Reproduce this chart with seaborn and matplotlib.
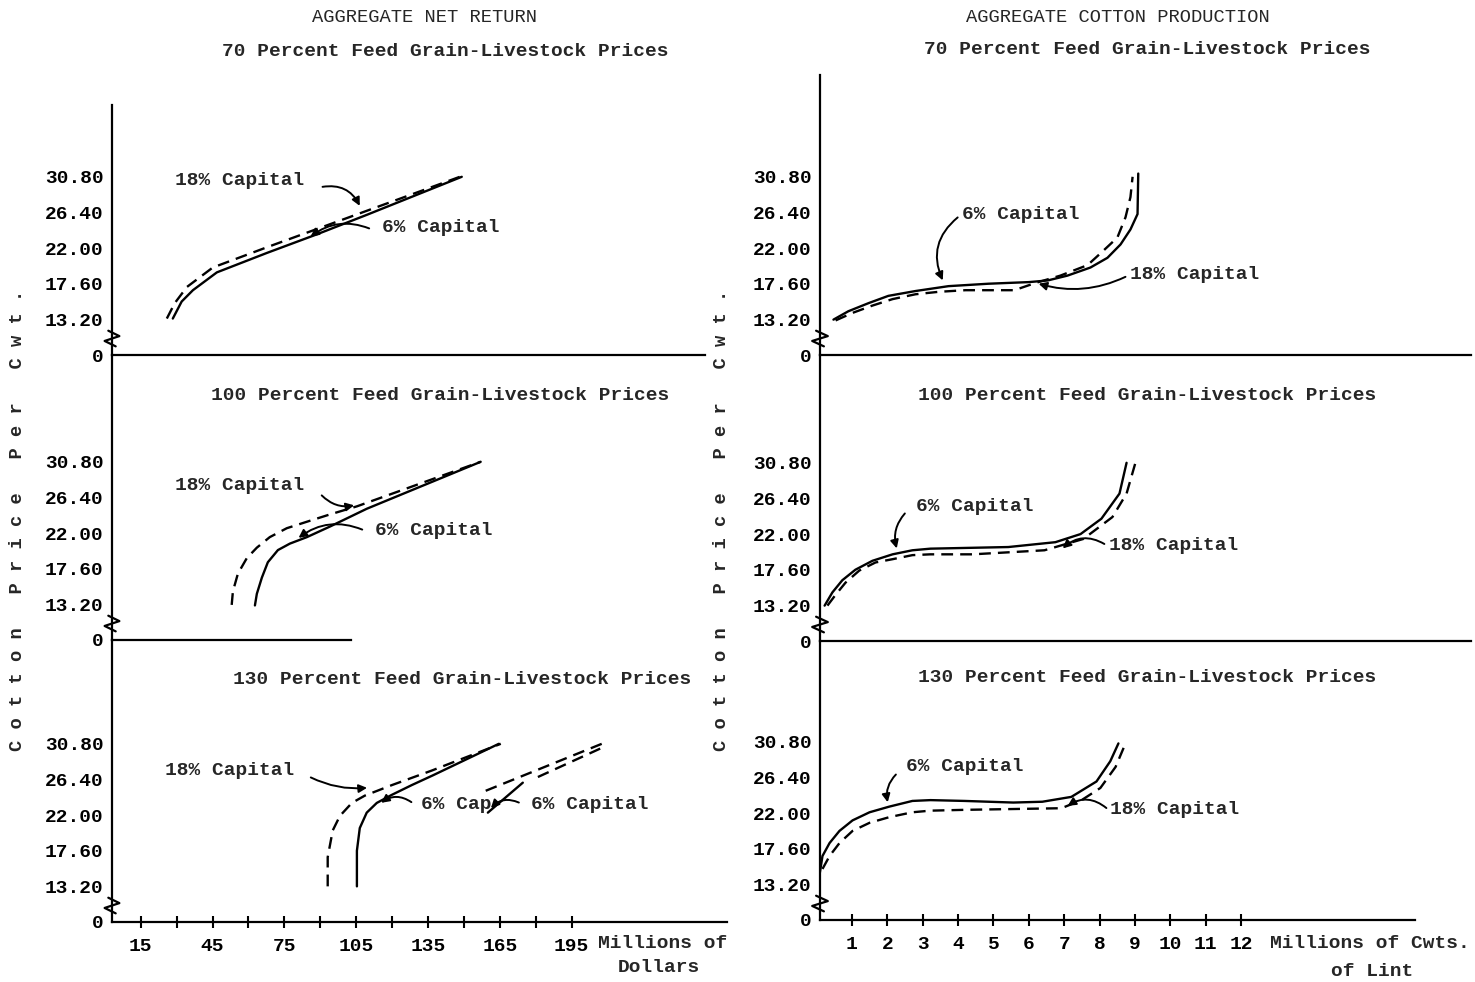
import numpy as np
import matplotlib
matplotlib.use("Agg")
import matplotlib.pyplot as plt
import seaborn as sns

sns.set_theme(style="white")
plt.rcParams['font.family'] = ['Liberation Mono', 'DejaVu Sans Mono']
plt.rcParams['font.weight'] = 'bold'
plt.rcParams['axes.edgecolor'] = 'black'
plt.rcParams['axes.linewidth'] = 1.6
plt.rcParams['xtick.color'] = 'black'
plt.rcParams['ytick.color'] = 'black'

# ---- Aggregate net return (millions of dollars) against cotton price ----
nr70_6_x = [28.4, 32.1, 36.8, 46.8, 67.7, 88.6, 109.4, 149.1]
nr70_6_y = [13.3, 15.4, 16.8, 19.0, 21.4, 23.7, 26.1, 30.8]
nr70_18_x = [25.9, 29.2, 34.3, 45.1, 67.7, 109.4, 148.3]
nr70_18_y = [13.3, 15.2, 17.2, 19.6, 22.1, 26.6, 30.8]

nr100_6_x = [62.7, 63.5, 65.6, 68.1, 72.3, 77.3, 84.4, 94.0, 109.4, 157.0]
nr100_6_y = [12.8, 14.5, 16.5, 18.4, 19.9, 20.7, 21.5, 22.8, 25.0, 30.8]
nr100_18_x = [53.0, 53.5, 55.6, 59.3, 63.5, 68.9, 76.0, 84.4, 94.0, 105.3, 157.0]
nr100_18_y = [13.0, 14.8, 17.0, 18.9, 20.2, 21.5, 22.6, 23.4, 24.3, 25.3, 30.8]

nr130_6_x = [105.3, 105.3, 106.5, 109.4, 113.6, 119.9, 128.2, 137.0, 164.6]
nr130_6_y = [13.2, 17.6, 20.4, 22.3, 23.5, 24.5, 25.7, 26.9, 30.8]
nr130_18_x = [93.1, 93.1, 95.2, 98.2, 103.2, 108.6, 119.9, 136.6, 165.4]
nr130_18_y = [13.2, 16.8, 20.1, 21.9, 23.5, 24.4, 25.7, 27.5, 30.8]
nr130b_6_x = [160.0, 174.6, 180.9, 207.6]
nr130b_6_y = [22.3, 26.0, 26.7, 30.3]
nr130b_18_x = [159.1, 207.6]
nr130b_18_y = [25.0, 30.8]

# ---- Aggregate cotton production (millions of cwts. of lint) ----
cp70_6_x = [0.48, 0.90, 1.47, 2.03, 2.80, 3.73, 4.86, 6.0, 6.53, 7.09, 7.74, 8.22,
            8.59, 8.87, 9.07, 9.09]
cp70_6_y = [13.1, 14.2, 15.2, 16.1, 16.7, 17.3, 17.6, 17.8, 18.0, 18.6, 19.6, 20.8,
            22.45, 24.3, 26.2, 31.2]
cp70_18_x = [0.54, 1.02, 1.58, 2.15, 2.80, 3.45, 4.21, 5.06, 5.59, 6.19, 6.89, 7.66,
             8.11, 8.50, 8.73, 8.87, 8.93]
cp70_18_y = [12.8, 14.0, 14.9, 15.7, 16.3, 16.6, 16.8, 16.8, 16.8, 17.7, 18.6, 19.9,
             21.7, 23.3, 25.8, 28.3, 30.8]

cp100_6_x = [0.23, 0.45, 0.73, 1.10, 1.58, 2.15, 2.71, 3.22, 5.42, 6.75, 7.46, 8.05,
             8.56, 8.76]
cp100_6_y = [13.1, 14.8, 16.3, 17.6, 18.7, 19.5, 20.0, 20.2, 20.4, 21.0, 22.0, 23.9,
             27.0, 30.8]
cp100_18_x = [0.31, 0.54, 0.82, 1.21, 1.67, 2.15, 2.71, 3.22, 4.41, 6.44, 7.54, 8.36,
              8.76, 9.01]
cp100_18_y = [13.1, 14.5, 16.0, 17.5, 18.5, 18.9, 19.4, 19.5, 19.5, 20.0, 21.4, 24.1,
              27.0, 30.8]

cp130_6_x = [0.06, 0.08, 0.17, 0.37, 0.65, 1.02, 1.50, 2.06, 2.71, 3.22, 4.18, 5.56,
             6.38, 7.2, 7.91, 8.3, 8.53]
cp130_6_y = [13.0, 14.2, 16.7, 18.3, 19.8, 21.1, 22.1, 22.8, 23.5, 23.6, 23.5, 23.3,
             23.4, 24.0, 25.9, 28.4, 30.6]
cp130_18_x = [0.17, 0.37, 0.65, 1.02, 1.50, 2.06, 2.71, 3.22, 4.18, 6.92, 7.49, 8.02,
              8.45, 8.73]
cp130_18_y = [15.1, 16.7, 18.3, 19.8, 20.8, 21.5, 22.1, 22.3, 22.4, 22.6, 23.6, 25.1,
              27.7, 30.6]

y_ticks = [0, 13.2, 17.6, 22.0, 26.4, 30.8]
y_tick_labels = ["0", "13.20", "17.60", "22.00", "26.40", "30.80"]
nr_ticks = [15, 45, 75, 105, 135, 165, 195]
nr_minor = [30, 60, 90, 120, 150, 180]
cp_ticks = list(range(1, 13))

panel_titles = ["70 Percent Feed Grain-Livestock Prices",
                "100 Percent Feed Grain-Livestock Prices",
                "130 Percent Feed Grain-Livestock Prices"]

# broken price axis: 0..13.20 squeezed into one tick step
BREAK = 13.2
def fwd(y):
    y = np.asarray(y, dtype=float)
    return np.where(y >= BREAK, y - BREAK + 4.4, y / 3.0)

def inv(t):
    t = np.asarray(t, dtype=float)
    return np.where(t >= 4.4, t - 4.4 + BREAK, t * 3.0)

W, H = 1475, 982
fig = plt.figure(figsize=(W / 100, H / 100), dpi=100)
PX = 8.1  # pixels per price unit on the transformed axis

def make_ax(left, width, top, bottom, xlim):
    ax = fig.add_axes([left / W, 1 - bottom / H, width / W, (bottom - top) / H])
    ax.set_yscale('function', functions=(fwd, inv))
    ax.set_xlim(*xlim)
    ax.set_ylim(0, float(inv((bottom - top) / PX)))
    ax.set_facecolor('none')
    for s in ['top', 'right']:
        ax.spines[s].set_visible(False)
    ax.set_yticks(y_ticks)
    ax.set_yticklabels(y_tick_labels)
    ax.yaxis.set_minor_locator(matplotlib.ticker.NullLocator())
    ax.tick_params(axis='y', direction='out', length=3, width=1.5, pad=3, labelsize=14)
    ax.set_xticks([])
    # axis break zigzag
    tr = ax.get_yaxis_transform()
    ax.plot([-0.006, 0.012, -0.012, 0.006], [9.0, 7.0, 5.2, 3.2], color='black',
            lw=1.6, transform=tr, clip_on=False)
    return ax

def curve(ax, x, y, dashed=False):
    ls = (0, (5, 3)) if dashed else '-'
    sns.lineplot(x=x, y=y, ax=ax, color='black', lw=1.7, sort=False,
                 estimator=None, linestyle=ls, legend=False)
    ax.set_xlabel('')
    ax.set_ylabel('')

def label(ax, text, xy_text, tail, head, rad=0.3):
    ax.text(xy_text[0], xy_text[1], text, fontsize=14, ha='left', va='center')
    ax.annotate('', xy=head, xytext=tail,
                arrowprops=dict(arrowstyle='-|>', lw=1.4, color='black',
                                mutation_scale=12,
                                connectionstyle=f'arc3,rad={rad}'))

L_LEFT, L_W = 112, 615
R_LEFT, R_W = 820, 651
nr_xlim = (3, 3 + L_W / 2.394)
cp_xlim = (0.1, 0.1 + R_W / 35.4)

left_rows = [(105, 355), (355, 640), (640, 922)]
right_rows = [(75, 355), (355, 641), (641, 920)]

axL = [make_ax(L_LEFT, L_W, t, b, nr_xlim) for t, b in left_rows]
axR = [make_ax(R_LEFT, R_W, t, b, cp_xlim) for t, b in right_rows]

# ---- net return panels ----
curve(axL[0], nr70_6_x, nr70_6_y)
curve(axL[0], nr70_18_x, nr70_18_y, dashed=True)
curve(axL[1], nr100_6_x, nr100_6_y)
curve(axL[1], nr100_18_x, nr100_18_y, dashed=True)
curve(axL[2], nr130_6_x, nr130_6_y)
curve(axL[2], nr130_18_x, nr130_18_y, dashed=True)
curve(axL[2], nr130b_6_x[:2], nr130b_6_y[:2])
curve(axL[2], nr130b_6_x[2:], nr130b_6_y[2:], dashed=True)
curve(axL[2], nr130b_18_x, nr130b_18_y, dashed=True)

axL[0].spines['bottom'].set_bounds(nr_xlim[0], 250.6)
axL[1].spines['bottom'].set_bounds(nr_xlim[0], 103)

label(axL[0], "18% Capital", (29.2, 30.3), (89.8, 29.5), (107, 26.9), rad=-0.4)
label(axL[0], "6% Capital", (115.7, 24.6), (111.5, 24.3), (85, 23.2), rad=0.3)
label(axL[1], "18% Capital", (29.2, 27.9), (89.8, 26.9), (105.3, 25.5), rad=0.3)
label(axL[1], "6% Capital", (112.8, 22.3), (108.6, 22.3), (80, 21.2), rad=0.3)
label(axL[2], "18% Capital", (25.1, 27.5), (85, 26.8), (110.7, 25.4), rad=0.15)
label(axL[2], "6% Cap", (132, 23.3), (129, 23.4), (114.5, 23.3), rad=0.4)
label(axL[2], "6% Capital", (178, 23.3), (174, 23.4), (160.5, 22.6), rad=0.4)

axL[2].set_xticks(nr_ticks)
axL[2].set_xticklabels([str(v) for v in nr_ticks])
axL[2].set_xticks(nr_minor, minor=True)
axL[2].tick_params(axis='x', which='both', direction='inout', length=9, width=1.5,
                   pad=7, labelsize=14, bottom=True)

# ---- cotton production panels ----
curve(axR[0], cp70_6_x, cp70_6_y)
curve(axR[0], cp70_18_x, cp70_18_y, dashed=True)
curve(axR[1], cp100_6_x, cp100_6_y)
curve(axR[1], cp100_18_x, cp100_18_y, dashed=True)
curve(axR[2], cp130_6_x, cp130_6_y)
curve(axR[2], cp130_18_x, cp130_18_y, dashed=True)

axR[2].spines['bottom'].set_bounds(cp_xlim[0], 16.9)

label(axR[0], "6% Capital", (4.12, 26.2), (4.05, 26.0), (3.6, 17.7), rad=0.4)
label(axR[0], "18% Capital", (8.87, 18.7), (8.8, 18.6), (6.2, 17.7), rad=-0.2)
label(axR[1], "6% Capital", (2.82, 25.4), (2.55, 24.8), (2.29, 19.9), rad=0.3)
label(axR[1], "18% Capital", (8.25, 20.6), (8.2, 20.6), (6.9, 20.0), rad=0.4)
label(axR[2], "6% Capital", (2.54, 27.8), (2.3, 27.0), (2.03, 23.0), rad=0.3)
label(axR[2], "18% Capital", (8.3, 22.4), (8.25, 22.4), (7.03, 22.7), rad=0.4)

axR[2].set_xticks(cp_ticks)
axR[2].set_xticklabels([str(v) for v in cp_ticks])
axR[2].tick_params(axis='x', which='both', direction='inout', length=9, width=1.5,
                   pad=7, labelsize=14, bottom=True)

# ---- headings and axis captions ----
def ftext(x, y, s, **kw):
    kw.setdefault('fontsize', 14)
    fig.text(x / W, 1 - y / H, s, **kw)

ftext(425, 17, "AGGREGATE NET RETURN", ha='center', va='center', fontsize=13.5,
      fontweight='normal')
ftext(1118, 17, "AGGREGATE COTTON PRODUCTION", ha='center', va='center', fontsize=13.5,
      fontweight='normal')
for (cx, cy), title in zip([(445, 52), (440, 396), (462, 680)], panel_titles):
    ftext(cx, cy, title, ha='center', va='center')
for (cx, cy), title in zip([(1147, 50), (1147, 396), (1147, 677)], panel_titles):
    ftext(cx, cy, title, ha='center', va='center')

ylab = "C o t t o n   P r i c e   P e r   C w t ."
ftext(18, 520, ylab, rotation=90, ha='center', va='center', fontsize=13.5)
ftext(722, 520, ylab, rotation=90, ha='center', va='center', fontsize=13.5)

ftext(598, 944, "Millions of", ha='left', va='center')
ftext(700, 968, "Dollars", ha='right', va='center')
ftext(1270, 944, "Millions of Cwts.", ha='left', va='center')
ftext(1413, 972, "of Lint", ha='right', va='center')

fig.savefig("out.png", dpi=100, facecolor='white')
